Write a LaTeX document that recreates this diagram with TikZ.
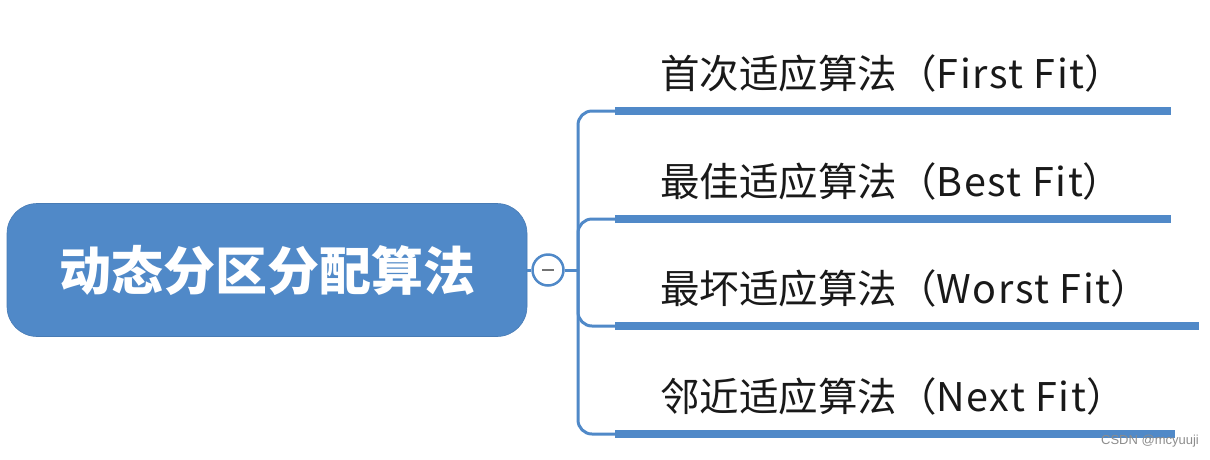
\documentclass[tikz,border=0pt]{standalone}
\usepackage{fontspec}
\setmainfont{Noto Sans CJK SC}
\newfontfamily\wmfont{Liberation Sans}
\newcommand{\latw}[1]{{\addfontfeatures{LetterSpace=4}#1}}
\begin{document}
\begin{tikzpicture}[x=1pt,y=-1pt]
\definecolor{mblue}{HTML}{5089C8}
\tikzset{
  rootbox/.style={fill=mblue, draw=mblue!90!black, line width=0.6pt, rounded corners=30pt,
    minimum width=520pt, minimum height=133pt, text=white,
    font=\fontsize{52}{52}\selectfont\bfseries},
  collapse/.style={circle, draw=mblue, line width=2.5pt, fill=white, minimum size=31pt, inner sep=0pt},
  link/.style={draw=mblue, line width=3pt, rounded corners=14pt},
  bar/.style={draw=mblue, line width=8pt},
  leaf/.style={anchor=base west, inner sep=0pt, text=black!90, font=\fontsize{39.5}{40}\selectfont},
  wm/.style={text=black!45, font=\wmfont\fontsize{13}{13}\selectfont, inner sep=0pt}
}
\useasboundingbox (0,0) rectangle (1210,459);
\node[rootbox] (root) at (267,270) {动态分区分配算法};
\node[collapse] (col) at (548,270) {};
\draw[black!55, line width=2.2pt] ([xshift=-6pt]col.center) -- ([xshift=6pt]col.center);
\coordinate (hub) at (578,270);
\coordinate (b1) at (615,111);
\coordinate (b2) at (615,219);
\coordinate (b3) at (615,326);
\coordinate (b4) at (615,434);
\coordinate (e1) at (1171,111);
\coordinate (e2) at (1171,219);
\coordinate (e3) at (1199,326);
\coordinate (e4) at (1175,434);
\draw[draw=mblue, line width=3pt] (root.east) -- (col.west);
\draw[draw=mblue, line width=3pt] (col.east) -- (hub);
\draw[link] (b1) -| (hub);
\draw[link] (b2) -| (hub);
\draw[link] (b3) -| (hub);
\draw[link] (b4) -| (hub);
\draw[bar] (b1) -- (e1);
\draw[bar] (b2) -- (e2);
\draw[bar] (b3) -- (e3);
\draw[bar] (b4) -- (e4);
\node[leaf] (l1) at (660,88) {首次适应算法（\latw{First Fit}）};
\node[leaf] (l2) at (660,196) {最佳适应算法（\latw{Best Fit}）};
\node[leaf] (l3) at (660,303) {最坏适应算法（\latw{Worst Fit}）};
\node[leaf] (l4) at (660,411) {邻近适应算法（\latw{Next Fit}）};
\node[wm] (wmk) at (1150,441) {CSDN @mcyuuji};
\end{tikzpicture}
\end{document}
